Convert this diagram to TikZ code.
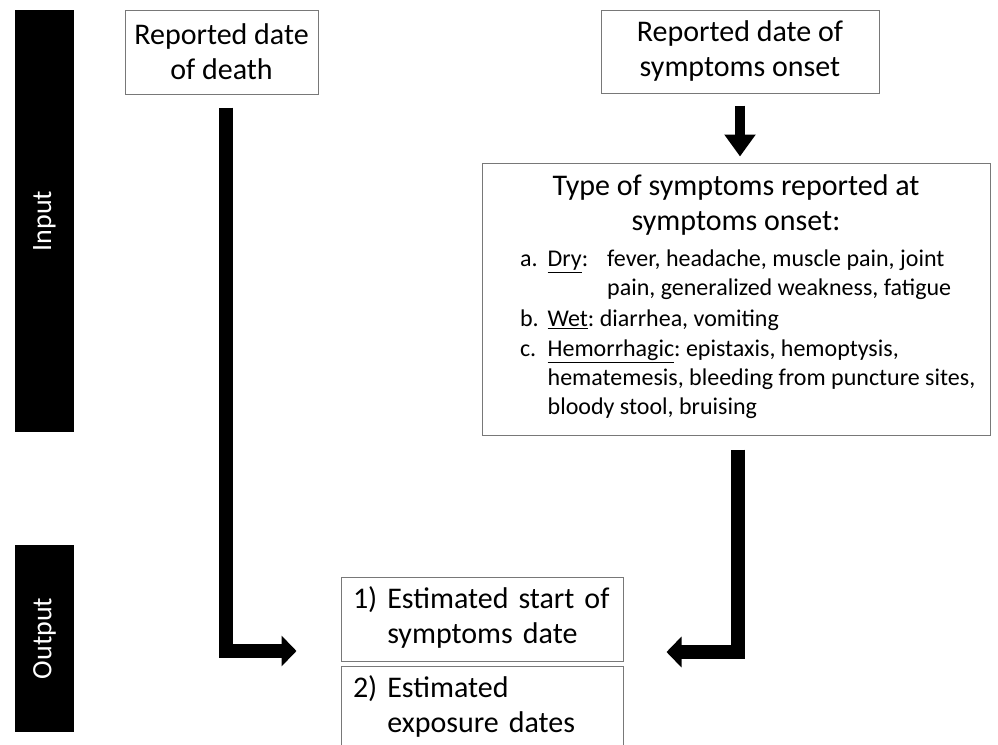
\documentclass[tikz,border=0pt]{standalone}
\usepackage{fontspec}
\setmainfont{Carlito}
\usetikzlibrary{arrows.meta,positioning}
\frenchspacing

\newcommand{\bigtext}{\fontsize{30}{35}\selectfont}
\newcommand{\listtext}{\fontsize{24}{29}\selectfont}
\newcommand{\bartext}{\fontsize{28}{33}\selectfont}
\tikzstyle{block} = [draw=frame, rectangle, line width=1pt, inner sep=0pt, align=center, font=\bigtext]
\tikzstyle{bar} = [fill=black, text=white, rectangle, rotate=90, inner sep=0pt, minimum height=59pt, font=\bartext]
\tikzstyle{fatarrow} = [draw, line width=14pt, -{Triangle[length=15pt, width=30pt]}]
\tikzstyle{arrow} = [draw, line width=10pt, -{Triangle[length=22pt, width=30pt]}]
\definecolor{frame}{RGB}{120,120,120}

\begin{document}
\begin{tikzpicture}[x=1pt, y=-1pt]
	\useasboundingbox (0,0) rectangle (998,744);

	% Input / Output bars
	\node [bar, minimum width=422pt] (input) at (44.5,221) {Input};
	\node [bar, minimum width=187pt] (output) at (44.5,638.5) {Output};

	% Input boxes
	\node [block, minimum width=193pt, minimum height=84pt] (death) at (221.5,52) {Reported date\\of death};
	\node [block, minimum width=278pt, minimum height=83pt] (onset) at (740,51.5) {Reported date of\\symptoms onset};
	\node [block, minimum width=508pt, minimum height=272pt] (type) at (736,299) {Type of symptoms reported at\\symptoms onset:\\[1pt]
		\makebox[470pt][l]{\hspace{19pt}\listtext\begin{tabular}[t]{@{}l@{\hspace{9pt}}l@{\hspace{19pt}}l@{}}
			a. & \underline{Dry}: & fever, headache, muscle pain, joint\\
			   &                  & pain, generalized weakness, fatigue\\[2pt]
			b. & \multicolumn{2}{@{}l@{}}{\underline{Wet}: diarrhea, vomiting}\\[1pt]
			c. & \multicolumn{2}{@{}l@{}}{\underline{Hemorrhagic}: epistaxis, hemoptysis,}\\
			   & \multicolumn{2}{@{}l@{}}{hematemesis, bleeding from puncture sites,}\\
			   & \multicolumn{2}{@{}l@{}}{bloody stool, bruising}
		\end{tabular}}};

	% Output boxes
	\node [block, minimum width=282pt, minimum height=84pt, text width=258pt, align=left] (startdate) at (482,619) {\begin{tabular}{@{}l@{ }l@{}}1) & Estimated start of\\ & symptoms date\end{tabular}};
	\node [block, minimum width=282pt, minimum height=84pt, text width=258pt, align=left, below=4pt of startdate] (exposure) {\begin{tabular}{@{}l@{ }l@{}}2) & Estimated\\ & exposure dates\end{tabular}};

	\draw [arrow] ([yshift=-12pt] onset.south) to ([xshift=4pt, yshift=6pt] type.north);
	\draw [fatarrow] ([xshift=4pt, yshift=-13pt] death.south) |- ([xshift=-44pt, yshift=-32pt] startdate.west);
	\draw [fatarrow] ([xshift=2pt, yshift=-14pt] type.south) |- ([xshift=43pt, yshift=-33pt] startdate.east);
\end{tikzpicture}
\end{document}
